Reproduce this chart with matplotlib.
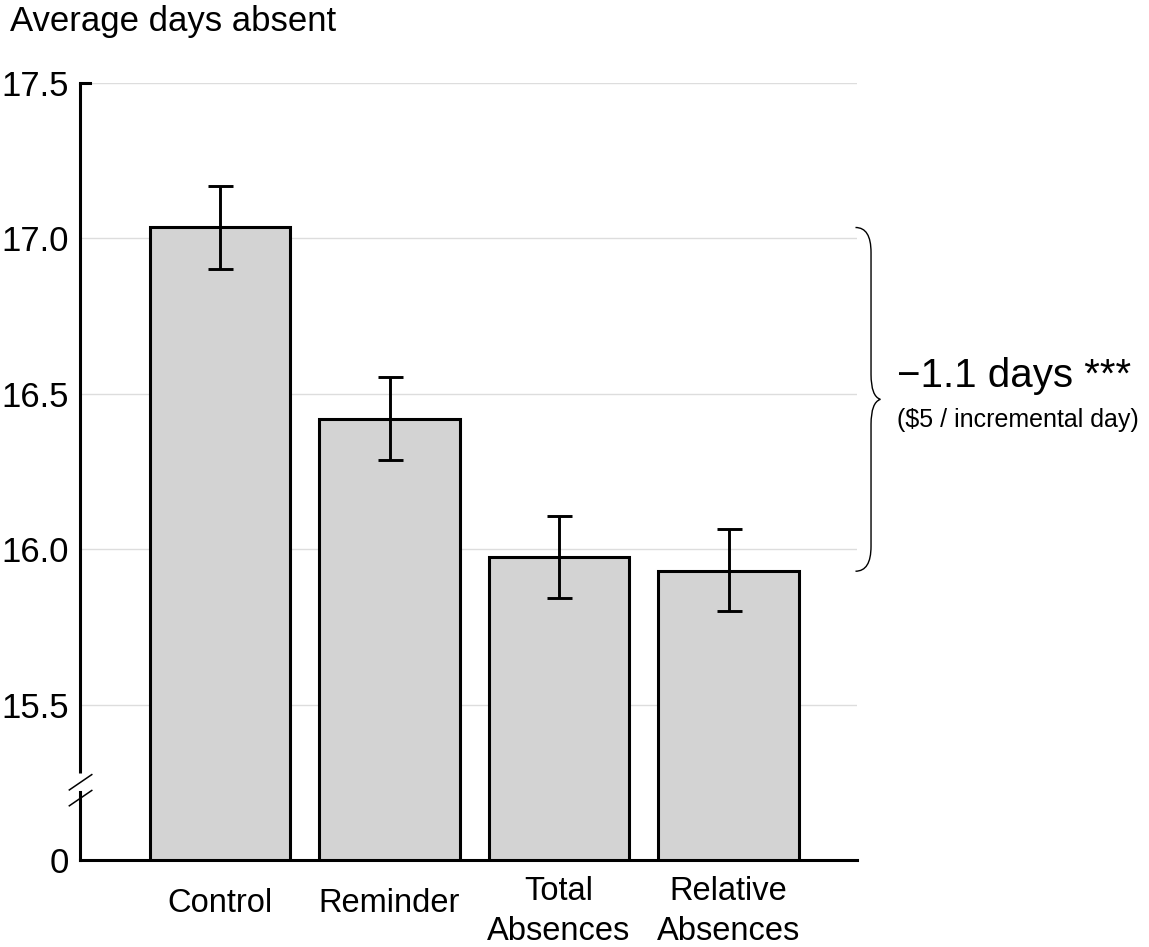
import matplotlib
matplotlib.use("Agg")
import matplotlib.pyplot as plt
import matplotlib.transforms as mtransforms
from matplotlib.path import Path
from matplotlib.patches import PathPatch
import numpy as np

plt.rcParams["font.family"] = ["Liberation Sans", "DejaVu Sans"]

# ── Data ────────────────────────────────────────────────────────────────
groups = ["Control", "Reminder", "Total\nAbsences", "Relative\nAbsences"]
means = [17.035, 16.418, 15.974, 15.929]
err_lo = [16.902, 16.288, 15.843, 15.800]
err_hi = [17.170, 16.553, 16.107, 16.064]
tick_vals = [15.0, 15.5, 16.0, 16.5, 17.0, 17.5]
tick_text = ["0", "15.5", "16.0", "16.5", "17.0", "17.5"]
base = 15.0  # broken axis: drawn as "0"
effect_text = "\u22121.1 days ***"
cost_text = "($5 / incremental day)"

# ── Plot ────────────────────────────────────────────────────────────────
fig = plt.figure(figsize=(11.49, 9.47), dpi=100)
ax = fig.add_axes([0.0696, 0.0919, 0.6763, 0.8205])

x = np.arange(len(groups))
heights = [m - base for m in means]
ax.bar(x, heights, bottom=base, width=0.83, color="#d3d3d3",
       edgecolor="black", linewidth=2.2, zorder=3)
yerr = [np.array(means) - np.array(err_lo), np.array(err_hi) - np.array(means)]
ax.errorbar(x, means, yerr=yerr, fmt="none", ecolor="black",
            elinewidth=2.1, capsize=9, capthick=2.1, zorder=4)

ax.set_xlim(-0.826, 3.758)
ax.set_ylim(15.0, 17.5)

# light gridlines (not at the base)
for v in tick_vals[1:]:
    ax.axhline(v, color="#dddddd", linewidth=1.0, zorder=0)

ax.set_yticks(tick_vals)
ax.set_yticklabels(tick_text, fontsize=25)
ax.tick_params(axis="y", length=0, pad=8)
ax.set_xticks([])

for s in ["top", "right", "left"]:
    ax.spines[s].set_visible(False)
ax.spines["bottom"].set_linewidth(2.2)

# left spine with a break
trans_y = mtransforms.blended_transform_factory(ax.transAxes, ax.transData)
ax.plot([0, 0], [15.0, 15.22], transform=trans_y, color="black",
        linewidth=2.2, clip_on=False, solid_capstyle="projecting")
ax.plot([0, 0], [15.28, 17.5], transform=trans_y, color="black",
        linewidth=2.2, clip_on=False, solid_capstyle="butt")
ax.plot([0, 0.013], [17.5, 17.5], transform=trans_y, color="black",
        linewidth=2.2, clip_on=False)
for yb in [15.25, 15.199]:
    ax.plot([-0.0137, 0.0152], [yb - 0.0247, yb + 0.0247], transform=trans_y,
            color="black", linewidth=1.1, clip_on=False)

# category labels
trans_x = mtransforms.blended_transform_factory(ax.transData, ax.transAxes)
for xi, g in zip(x, groups):
    yl = -0.0555 if "\n" not in g else -0.0665
    ax.text(xi, yl, g, transform=trans_x, ha="center", va="center",
            fontsize=23.5, linespacing=1.37)

# curly brace from Control to Relative Absences
y0, y1 = means[0], means[-1]
ym = (y0 + y1) / 2
xa = 1.0  # axes fraction at left ends
verts = [
    (xa - 0.002, y0),
    (xa + 0.018, y0), (xa + 0.018, y0 - 0.08),
    (xa + 0.018, ym + 0.08),
    (xa + 0.018, ym + 0.01), (xa + 0.03, ym),
    (xa + 0.018, ym - 0.01), (xa + 0.018, ym - 0.08),
    (xa + 0.018, y1 + 0.08),
    (xa + 0.018, y1), (xa - 0.002, y1),
]
codes = [Path.MOVETO,
         Path.CURVE3, Path.CURVE3,
         Path.LINETO,
         Path.CURVE3, Path.CURVE3,
         Path.CURVE3, Path.CURVE3,
         Path.LINETO,
         Path.CURVE3, Path.CURVE3]
brace = PathPatch(Path(verts, codes), transform=trans_y, facecolor="none",
                  edgecolor="black", linewidth=1.0, clip_on=False)
ax.add_patch(brace)

ax.text(1.052, ym + 0.075, effect_text, transform=trans_y, ha="left",
        va="center", fontsize=29)
ax.text(1.052, ym - 0.065, cost_text, transform=trans_y, ha="left",
        va="center", fontsize=18)

fig.text(10 / 1149, 1 - 22 / 947, "Average days absent", ha="left",
         va="center", fontsize=25)

fig.savefig("out.png", dpi=100)
